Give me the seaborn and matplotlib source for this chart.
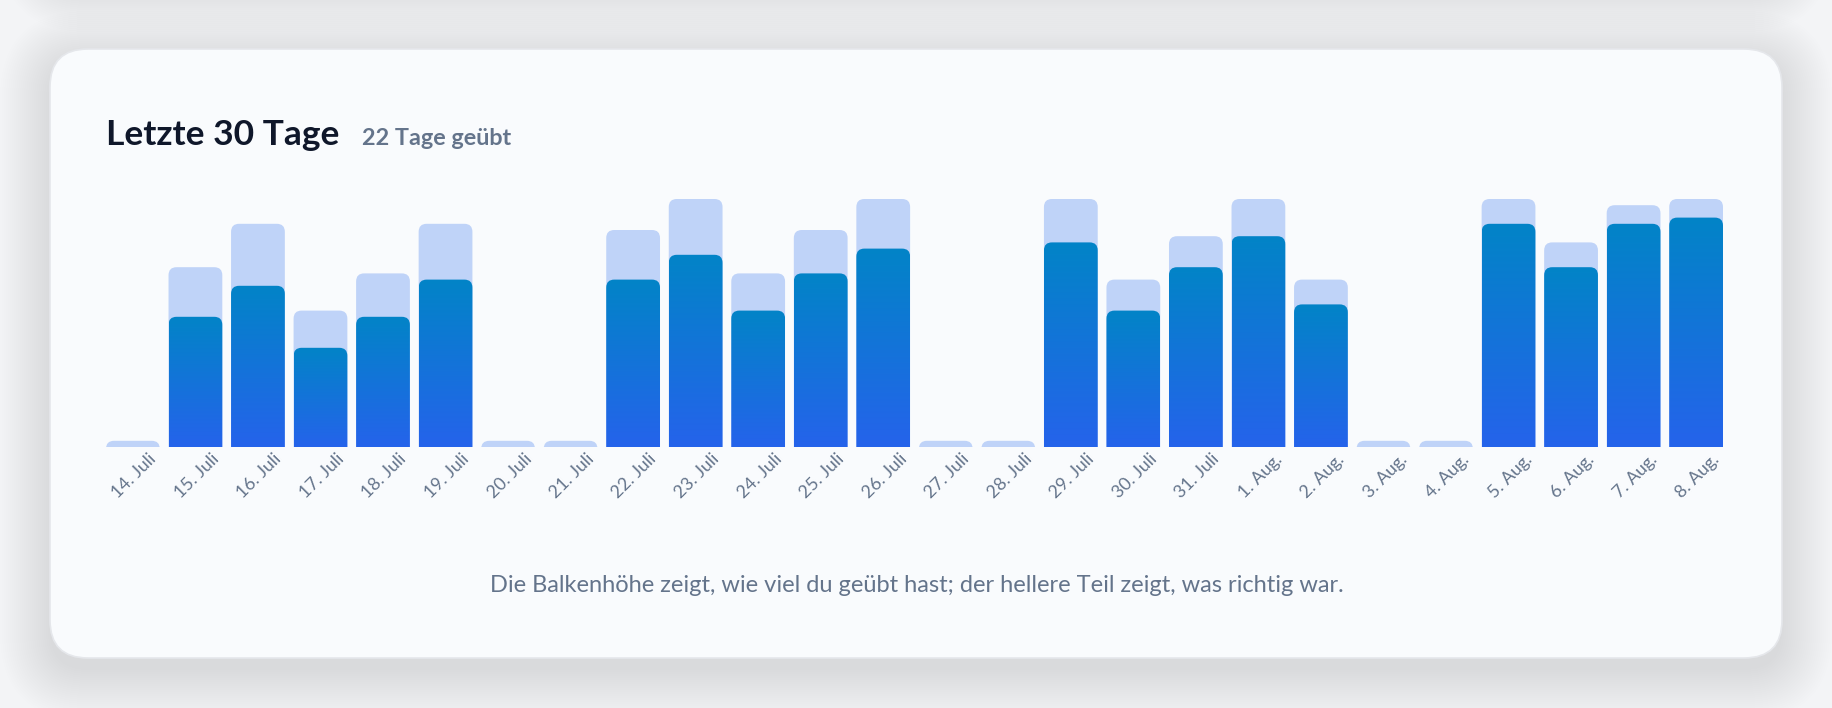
import numpy as np
import pandas as pd
import matplotlib.pyplot as plt
import seaborn as sns
from matplotlib.patches import FancyBboxPatch
from matplotlib.colors import LinearSegmentedColormap
from matplotlib.transforms import ScaledTranslation

# Daten
tage = ['14. Juli', '15. Juli', '16. Juli', '17. Juli', '18. Juli', '19. Juli',
        '20. Juli', '21. Juli', '22. Juli', '23. Juli', '24. Juli', '25. Juli',
        '26. Juli', '27. Juli', '28. Juli', '29. Juli', '30. Juli', '31. Juli',
        '1. Aug.', '2. Aug.', '3. Aug.', '4. Aug.', '5. Aug.', '6. Aug.',
        '7. Aug.', '8. Aug.']
geuebt = [0, 29, 36, 22, 28, 36, 0, 0, 35, 40, 28, 35, 40, 0, 0,
          40, 27, 34, 40, 27, 0, 0, 40, 33, 39, 40]
dunkel = [0, 21, 26, 16, 21, 27, 0, 0, 27, 31, 22, 28, 32, 0, 0,
          33, 22, 29, 34, 23, 0, 0, 36, 29, 36, 37]

titel = 'Letzte 30 Tage'
untertitel = '22 Tage geübt'
hinweis = 'Die Balkenhöhe zeigt, wie viel du geübt hast; der hellere Teil zeigt, was richtig war.'

df = pd.DataFrame({'tag': tage, 'geuebt': geuebt, 'dunkel': dunkel})
df['hoehe'] = np.maximum(df['geuebt'], 1.0)  # leere Tage als flacher Stummel

sns.set_theme(style='white')
plt.rcParams['font.family'] = ['Lato', 'DejaVu Sans']

W, H, DPI = 1832, 708, 100
fig = plt.figure(figsize=(W / DPI, H / DPI), dpi=DPI)
fig.patch.set_facecolor('#f3f4f6')

# Hintergrund mit Karte und Schatten (Pixelkoordinaten)
bg = fig.add_axes([0, 0, 1, 1], zorder=0)
bg.set_xlim(0, W)
bg.set_ylim(H, 0)
bg.axis('off')


def schatten(x0, y0, x1, y1, r, dy=12, layers=26, alpha=0.0022):
    for i in range(layers):
        g = i * 2.0
        bg.add_patch(FancyBboxPatch((x0 - g, y0 - g + dy), (x1 - x0) + 2 * g, (y1 - y0) + 2 * g,
                                    boxstyle=f'round,pad=0,rounding_size={r + g}',
                                    fc='#1f2937', ec='none', alpha=alpha))


schatten(50, -400, 1782, -30, 38)
schatten(50, 49, 1782, 658, 38)
bg.add_patch(FancyBboxPatch((50, 49), 1732, 609, boxstyle='round,pad=0,rounding_size=38',
                            fc='#f9fbfd', ec='#e5e7eb', lw=1.2))

# Balkendiagramm
ax = fig.add_axes([106 / W, 1 - 447 / H, (1723 - 106) / W, (447 - 199) / H], zorder=2)
ax.patch.set_alpha(0)

breite = 0.86
hell = '#bfd3f8'
sns.barplot(data=df, x='tag', y='hoehe', color=hell, width=breite, errorbar=None,
            saturation=1, ax=ax)
n_hell = len(ax.patches)
sns.barplot(data=df, x='tag', y='dunkel', color='#0284c7', width=breite, errorbar=None,
            saturation=1, ax=ax)

ax.set_xlim(-breite / 2, len(tage) - 1 + breite / 2)
ax.set_ylim(0, 40)
fig.canvas.draw()
bb = ax.get_window_extent()
px_x = bb.width / (ax.get_xlim()[1] - ax.get_xlim()[0])
px_y = bb.height / (ax.get_ylim()[1] - ax.get_ylim()[0])
aspekt = px_x / px_y
r_x = 8 / px_x
r_y = r_x * aspekt

verlauf = LinearSegmentedColormap.from_list('verlauf', ['#2563eb', '#0284c7'])
grad = np.linspace(0, 1, 256).reshape(-1, 1)

alte = list(ax.patches)
for i, p in enumerate(alte):
    x0, w, h = p.get_x(), p.get_width(), p.get_height()
    p.remove()
    if h <= 0:
        continue
    rund = FancyBboxPatch((x0, -r_y), w, h + r_y,
                          boxstyle=f'round,pad=0,rounding_size={r_x}',
                          mutation_aspect=aspekt, ec='none')
    if i < n_hell:
        rund.set_facecolor(hell)
        rund.set_zorder(2)
        ax.add_patch(rund)
    else:
        rund.set_facecolor('none')
        ax.add_patch(rund)
        im = ax.imshow(grad, extent=[x0, x0 + w, 0, h], origin='lower', cmap=verlauf,
                       aspect='auto', zorder=3, interpolation='bilinear')
        im.set_clip_path(rund)

ax.set_xlim(-breite / 2, len(tage) - 1 + breite / 2)
ax.set_ylim(0, 40)
sns.despine(ax=ax, left=True, bottom=True)
ax.set_yticks([])
ax.set_xlabel('')
ax.set_ylabel('')
ax.tick_params(axis='x', length=0, pad=2)
ax.set_xticks(range(len(tage)))
ax.set_xticklabels(tage, rotation=45, ha='right', va='center', rotation_mode='anchor',
                   fontsize=12.8, color='#64748b')
versatz = ScaledTranslation(0.21, -0.07, fig.dpi_scale_trans)
for lbl in ax.get_xticklabels():
    lbl.set_transform(lbl.get_transform() + versatz)

# Texte
fig.text(106 / W, 1 - 145 / H, titel, fontsize=25.5, weight='bold', color='#0f172a',
         va='baseline', ha='left')
fig.text(362 / W, 1 - 145 / H, untertitel, fontsize=16.8, weight='bold', color='#64748b',
         va='baseline', ha='left')
fig.text(917 / W, 1 - 585 / H, hinweis, fontsize=17, color='#64748b',
         va='center', ha='center')

fig.savefig('out.png', dpi=DPI, facecolor=fig.get_facecolor())
